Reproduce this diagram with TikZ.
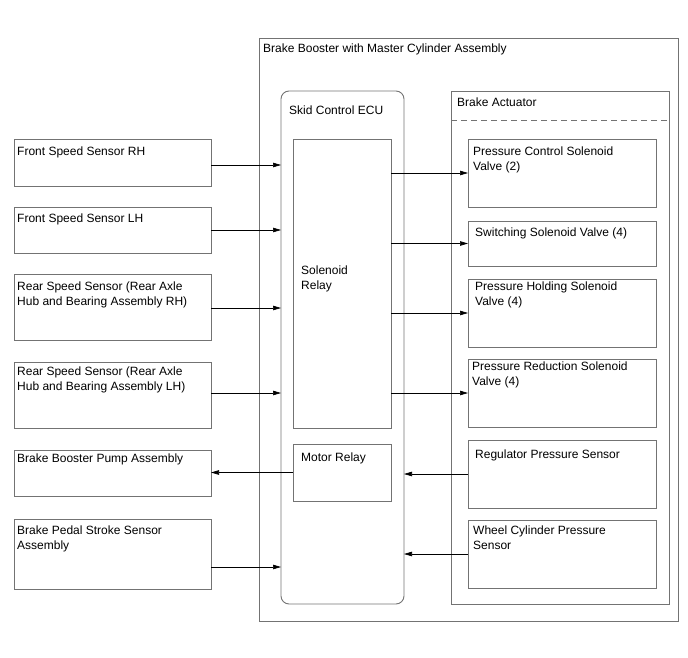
\documentclass[tikz,border=0pt]{standalone}
\usepackage{fontspec}
\setmainfont{Liberation Sans}
\usetikzlibrary{fit,calc,arrows.meta}
\begin{document}
\begin{tikzpicture}[x=1pt,y=-1pt,
  box/.style={draw=black!55, line width=0.9pt, inner sep=0pt, outer sep=0pt},
  txt/.style={anchor=north west, inner sep=0pt, align=left, font=\fontsize{12}{14.3}\selectfont},
  arr/.style={draw=black, line width=0.7pt, -{Triangle[length=8pt,width=4.5pt]}}]
\useasboundingbox (0,0) rectangle (688,658);
% containers
\node[box, fit={(259,38) (678,621)}] (outer) {};
\node[box, rounded corners=8pt, fit={(281,91) (404,604)}] (ecu) {};
\node[box, fit={(451,91) (669,604)}] (act) {};
\draw[black!55, line width=0.8pt, dash pattern=on 6pt off 4pt] (act.west |- 0,120) coordinate (dl) -- (dl -| act.east);
% ECU inner
\node[box, fit={(293,139) (391,428)}] (sol) {};
\node[box, fit={(293,444) (391,501)}] (mr) {};
% actuator inner
\node[box, fit={(468,139) (656,207)}] (pcv) {};
\node[box, fit={(468,221) (656,266)}] (ssv) {};
\node[box, fit={(468,279) (656,347)}] (phv) {};
\node[box, fit={(468,359) (656,427)}] (prv) {};
\node[box, fit={(468,440) (656,508)}] (reg) {};
\node[box, fit={(468,520) (656,588)}] (wcp) {};
% left boxes
\node[box, fit={(14,139) (211,186)}] (frh) {};
\node[box, fit={(14,207) (211,253)}] (flh) {};
\node[box, fit={(14,274) (211,340)}] (rrh) {};
\node[box, fit={(14,362) (211,428)}] (rlh) {};
\node[box, fit={(14,450) (211,496)}] (pump) {};
\node[box, fit={(14,519) (211,589)}] (ped) {};
% texts
\node[txt] (t0) at (263,44) {Brake Booster with Master Cylinder Assembly};
\node[txt] (t1) at (289,106) {Skid Control ECU};
\node[txt] (t2) at (457,98) {Brake Actuator};
\node[txt] (t3) at (301,266) {Solenoid\\Relay};
\node[txt] (t4) at (301,453) {Motor Relay};
\node[txt] (t5) at (473,147) {Pressure Control Solenoid\\Valve (2)};
\node[txt] (t6) at (475,228) {Switching Solenoid Valve (4)};
\node[txt] (t7) at (475,282) {Pressure Holding Solenoid\\Valve (4)};
\node[txt] (t8) at (472,362) {Pressure Reduction Solenoid\\Valve (4)};
\node[txt] (t9) at (475,450) {Regulator Pressure Sensor};
\node[txt] (t10) at (473,526) {Wheel Cylinder Pressure\\Sensor};
\node[txt] (t11) at (17,147) {Front Speed Sensor RH};
\node[txt] (t12) at (17,214) {Front Speed Sensor LH};
\node[txt] (t13) at (17,282) {Rear Speed Sensor (Rear Axle\\Hub and Bearing Assembly RH)};
\node[txt] (t14) at (17,367) {Rear Speed Sensor (Rear Axle\\Hub and Bearing Assembly LH)};
\node[txt] (t15) at (17,454) {Brake Booster Pump Assembly};
\node[txt] (t16) at (17,526) {Brake Pedal Stroke Sensor\\Assembly};
% arrows into ECU
\coordinate (a1) at ($(frh.east)+(0,2.5)$);
\coordinate (a2) at (flh.east);
\coordinate (a3) at ($(rrh.east)+(0,1)$);
\coordinate (a4) at ($(rlh.east)+(0,-2)$);
\coordinate (a6) at ($(ped.east)+(0,13)$);
\foreach \c in {a1,a2,a3,a4,a6} \draw[arr] (\c) -- (\c -| ecu.west);
\draw[arr] (mr.west) -- (mr.west -| pump.east);
% solenoid relay to valves
\foreach \v in {pcv,ssv,phv,prv} \draw[arr] (sol.east |- \v.west) -- (\v.west);
% sensors to ECU
\draw[arr] (reg.west) -- (reg.west -| ecu.east);
\draw[arr] (wcp.west) -- (wcp.west -| ecu.east);
\end{tikzpicture}
\end{document}
